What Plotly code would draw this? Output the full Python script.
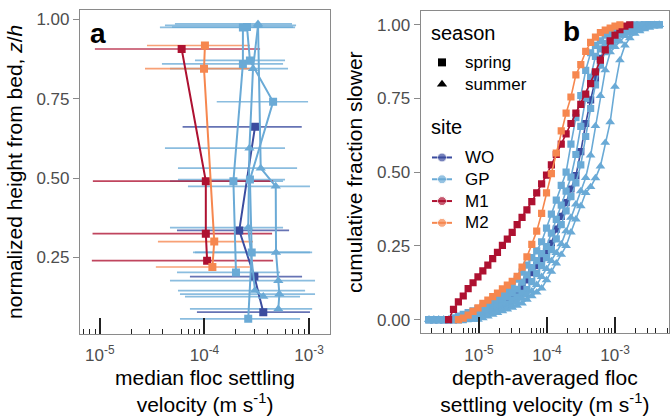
import plotly.graph_objects as go

W, H = 670, 416
FONT = "Liberation Sans, Arial, sans-serif"
GREY_TXT = "#4d4d4d"
BORDER = "#8a8a8a"

SITE_COLOURS = {"WO": "#3B4C9F", "GP": "#6AAAD6", "M1": "#AE1131", "M2": "#F6874F"}
SEASON_SYMBOLS = {"spring": "square", "summer": "triangle-up"}

# ---------------- panel a: median floc settling velocity profiles ----------------
# height above bed (z/h), median settling velocity and its lower / upper range (m s-1)
wo_z = [0.661, 0.335, 0.19, 0.078]
wo_ws = [3.04e-4, 2.15e-4, 3.0e-4, 3.65e-4]
wo_lo = [6.18e-5, 5.46e-5, 7.26e-5, 8.47e-5]
wo_hi = [8.51e-4, 6.44e-4, 8.57e-4, 1.02e-3]

gp1_z = [0.974, 0.859, 0.49, 0.203]
gp1_ws = [2.33e-4, 2.33e-4, 1.89e-4, 2.0e-4]
gp1_lo = [3.75e-5, 3.92e-5, 4.68e-5, 5.46e-5]
gp1_hi = [7.35e-4, 5.64e-4, 5.64e-4, 5.28e-4]

gp2_z = [0.975, 0.87, 0.74, 0.495, 0.266, 0.057]
gp2_ws = [2.55e-4, 2.72e-4, 4.53e-4, 2.72e-4, 2.83e-4, 2.62e-4]
gp2_lo = [4.89e-5, 8.11e-5, 1.31e-4, 5.58e-5, 7.76e-5, 5.83e-5]
gp2_hi = [7.03e-4, 5.89e-4, 9.78e-4, 5.89e-4, 1.07e-3, 8.20e-4]

gp3_z = [0.98, 0.844, 0.594, 0.344, 0.146, 0.127]
gp3_ws = [3.25e-4, 2.91e-4, 2.69e-4, 2.62e-4, 3.04e-4, 3.65e-4]
gp3_lo = [4.19e-5, 4.68e-5, 4.19e-5, 4.68e-5, 5.58e-5, 6.51e-5]
gp3_hi = [7.51e-4, 6.29e-4, 5.89e-4, 5.64e-4, 9.16e-4, 8.20e-4]

gp4_z = [0.985, 0.531, 0.474, 0.266, 0.177, 0.135, 0.088]
gp4_ws = [3.25e-4, 3.45e-4, 4.80e-4, 4.83e-4, 5.08e-4, 5.20e-4, 5.08e-4]
gp4_lo = [5.22e-5, 5.58e-5, 6.95e-5, 8.11e-5, 4.68e-5, 5.83e-5, 7.26e-5]
gp4_hi = [6.87e-4, 7.68e-4, 1.02e-3, 1.02e-3, 1.14e-3, 1.14e-3, 1.07e-3]

m1_z = [0.906, 0.49, 0.325, 0.24]
m1_ws = [6.05e-5, 1.03e-4, 1.03e-4, 1.06e-4]
m1_lo = [8.96e-6, 8.57e-6, 8.51e-6, 8.38e-6]
m1_hi = [3.40e-4, 4.53e-4, 4.43e-4, 4.53e-4]

m2_z = [0.917, 0.844, 0.30, 0.22]
m2_ws = [1.01e-4, 9.9e-5, 1.24e-4, 1.19e-4]
m2_lo = [2.82e-5, 2.7e-5, 3.59e-5, 3.43e-5]
m2_hi = [2.72e-4, 3.04e-4, 2.91e-4, 2.72e-4]

profiles = [
    ("WO", "spring", wo_z, wo_ws, wo_lo, wo_hi),
    ("GP", "spring", gp1_z, gp1_ws, gp1_lo, gp1_hi),
    ("GP", "spring", gp2_z, gp2_ws, gp2_lo, gp2_hi),
    ("GP", "summer", gp3_z, gp3_ws, gp3_lo, gp3_hi),
    ("GP", "summer", gp4_z, gp4_ws, gp4_lo, gp4_hi),
    ("M1", "spring", m1_z, m1_ws, m1_lo, m1_hi),
    ("M2", "spring", m2_z, m2_ws, m2_lo, m2_hi),
]

# ---------------- panel b: cumulative distributions of depth-averaged w_s ----------------
# settling-velocity classes (m s-1); every curve covers a run of these classes,
# starting at the class given by its *_first index
ws_bins = [
    1.84e-6, 2.17e-6, 2.56e-6, 3.03e-6, 3.57e-6, 4.22e-6, 4.98e-6, 5.87e-6, 6.93e-6, 8.18e-6,
    9.66e-6, 1.14e-5, 1.35e-5, 1.59e-5, 1.87e-5, 2.21e-5, 2.61e-5, 3.08e-5, 3.64e-5, 4.30e-5,
    5.07e-5, 5.98e-5, 7.06e-5, 8.34e-5, 9.84e-5, 1.16e-4, 1.37e-4, 1.62e-4, 1.91e-4, 2.25e-4,
    2.66e-4, 3.14e-4, 3.71e-4, 4.38e-4, 5.16e-4, 6.10e-4, 7.19e-4, 8.49e-4, 1.00e-3, 1.18e-3,
    1.40e-3, 1.65e-3, 1.95e-3, 2.30e-3, 2.71e-3, 3.20e-3, 3.78e-3, 4.46e-3,
]

wo_first = 0
cdf_wo = [0, 0, 0, 0, 0, 0, 0, 0.006, 0.012, 0.018,
          0.024, 0.03, 0.036, 0.042, 0.048, 0.058, 0.07, 0.082, 0.094, 0.111,
          0.135, 0.159, 0.183, 0.207, 0.231, 0.259, 0.307, 0.35, 0.397, 0.443,
          0.488, 0.57, 0.665, 0.745, 0.818, 0.886, 0.918, 0.94, 0.962, 0.974,
          0.979, 0.984, 0.989, 0.993, 0.998, 1]
gp1_first = 0
cdf_gp1 = [0, 0, 0, 0, 0, 0.006, 0.012, 0.018, 0.024, 0.03,
           0.037, 0.043, 0.049, 0.058, 0.07, 0.083, 0.095, 0.113, 0.137, 0.161,
           0.185, 0.21, 0.233, 0.264, 0.31, 0.358, 0.405, 0.455, 0.5, 0.595,
           0.685, 0.76, 0.845, 0.905, 0.93, 0.945, 0.965, 0.975, 0.983, 0.989,
           0.994, 0.998, 1, 1, 1, 1, 1, 1]
gp2_first = 0
cdf_gp2 = [0, 0, 0, 0, 0, 0, 0.004, 0.01, 0.016, 0.022,
           0.028, 0.034, 0.04, 0.046, 0.054, 0.066, 0.078, 0.09, 0.103, 0.127,
           0.152, 0.176, 0.2, 0.224, 0.248, 0.293, 0.34, 0.388, 0.436, 0.483,
           0.56, 0.655, 0.75, 0.822, 0.893, 0.918, 0.937, 0.957, 0.971, 0.977,
           0.982, 0.987, 0.992, 0.997, 1, 1, 1, 1]
gp3_first = 0
cdf_gp3 = [0, 0, 0, 0, 0, 0, 0, 0, 0.003, 0.009,
           0.015, 0.021, 0.027, 0.033, 0.039, 0.045, 0.053, 0.065, 0.077, 0.089,
           0.102, 0.129, 0.156, 0.183, 0.21, 0.237, 0.274, 0.322, 0.369, 0.417,
           0.464, 0.525, 0.621, 0.716, 0.796, 0.863, 0.909, 0.929, 0.948, 0.968,
           0.976, 0.981, 0.985, 0.99, 0.995, 1, 1, 1]
gp4_first = 0
cdf_gp4 = [0, 0, 0, 0, 0, 0, 0, 0, 0, 0.001,
           0.007, 0.013, 0.019, 0.025, 0.031, 0.037, 0.043, 0.049, 0.06, 0.072,
           0.084, 0.096, 0.118, 0.145, 0.172, 0.199, 0.226, 0.256, 0.3, 0.346,
           0.391, 0.436, 0.481, 0.557, 0.657, 0.759, 0.846, 0.907, 0.925, 0.944,
           0.962, 0.972, 0.979, 0.984, 0.989, 0.995, 1, 1]
gp5_first = 0
cdf_gp5 = [0, 0, 0, 0, 0, 0, 0, 0, 0, 0,
           0, 0.005, 0.011, 0.017, 0.023, 0.029, 0.035, 0.041, 0.047, 0.055,
           0.068, 0.08, 0.092, 0.106, 0.134, 0.163, 0.191, 0.22, 0.25, 0.296,
           0.34, 0.385, 0.43, 0.45, 0.48, 0.52, 0.6, 0.67, 0.79, 0.88,
           0.93, 0.955, 0.97, 0.978, 0.985, 0.99, 0.995, 1]
m1_first = 4
cdf_m1 = [0, 0.035, 0.06, 0.08, 0.105, 0.125,
          0.145, 0.165, 0.185, 0.207, 0.228, 0.252, 0.273, 0.296, 0.322, 0.347,
          0.372, 0.40, 0.43, 0.46, 0.49, 0.525, 0.56, 0.595, 0.63, 0.665,
          0.70, 0.73, 0.765, 0.80, 0.84, 0.88, 0.915, 0.945, 0.965, 0.983,
          0.995, 1]
m2_first = 6
cdf_m2 = [0, 0.005, 0.015, 0.028,
          0.04, 0.055, 0.066, 0.078, 0.09, 0.104, 0.117, 0.13, 0.147, 0.178,
          0.213, 0.255, 0.30, 0.36, 0.43, 0.495, 0.565, 0.64, 0.70, 0.755,
          0.83, 0.865, 0.91, 0.94, 0.958, 0.973, 0.982, 0.989, 0.995, 1]

curves = [
    ("WO", "spring", wo_first, cdf_wo),
    ("GP", "spring", gp1_first, cdf_gp1),
    ("GP", "spring", gp2_first, cdf_gp2),
    ("GP", "spring", gp3_first, cdf_gp3),
    ("GP", "summer", gp4_first, cdf_gp4),
    ("GP", "summer", gp5_first, cdf_gp5),
    ("M1", "spring", m1_first, cdf_m1),
    ("M2", "spring", m2_first, cdf_m2),
]

x_decades = [1e-5, 1e-4, 1e-3]
x_decade_text = ["10<sup>-5</sup>", "10<sup>-4</sup>", "10<sup>-3</sup>"]

season_keys = ["spring", "summer"]
site_keys = ["WO", "GP", "M1", "M2"]


def rgba(hex_colour, alpha):
    h = hex_colour.lstrip("#")
    r, g, b = int(h[0:2], 16), int(h[2:4], 16), int(h[4:6], 16)
    return f"rgba({r},{g},{b},{alpha})"


fig = go.Figure()

# error bars first so that every profile line sits on top of them
for site, season, z, ws, lo, hi in profiles:
    fig.add_trace(go.Scatter(
        x=ws, y=z, mode="markers", xaxis="x", yaxis="y",
        marker=dict(size=1, color="rgba(0,0,0,0)"),
        error_x=dict(type="data", symmetric=False,
                     array=[h - w for h, w in zip(hi, ws)],
                     arrayminus=[w - l for w, l in zip(ws, lo)],
                     width=0, thickness=1.7, color=rgba(SITE_COLOURS[site], 0.78)),
        showlegend=False, hoverinfo="skip"))

for site, season, z, ws, lo, hi in profiles:
    fig.add_trace(go.Scatter(
        x=ws, y=z, mode="lines+markers", xaxis="x", yaxis="y",
        line=dict(color=SITE_COLOURS[site], width=2),
        marker=dict(symbol=SEASON_SYMBOLS[season], size=9 if season == "summer" else 8,
                    color=SITE_COLOURS[site]),
        showlegend=False))

for site, season, first, cdf in curves:
    fig.add_trace(go.Scatter(
        x=ws_bins[first:first + len(cdf)], y=cdf, mode="lines+markers",
        xaxis="x2", yaxis="y2",
        line=dict(color=SITE_COLOURS[site], width=1.6),
        marker=dict(symbol=SEASON_SYMBOLS[season], size=8.5 if season == "summer" else 7.2,
                    color=SITE_COLOURS[site]),
        showlegend=False))

# ---------------- legend drawn inside panel b on a pixel-space overlay ----------------
LEG_X_KEY = 442       # centre of the key glyphs
LEG_X_TEXT = 463      # left edge of the entry labels
LEG_X_TITLE = 429
season_rows = [63, 85]
site_rows = [159, 181, 203, 225]

for season, row in zip(season_keys, season_rows):
    fig.add_trace(go.Scatter(
        x=[LEG_X_KEY], y=[row], mode="markers", xaxis="x5", yaxis="y5",
        marker=dict(symbol=SEASON_SYMBOLS[season], size=9 if season == "summer" else 8,
                    color="black"),
        showlegend=False, hoverinfo="skip"))
for site, row in zip(site_keys, site_rows):
    fig.add_trace(go.Scatter(
        x=[LEG_X_KEY - 10, LEG_X_KEY, LEG_X_KEY + 10], y=[row, row, row],
        mode="lines+markers", xaxis="x5", yaxis="y5",
        line=dict(color=SITE_COLOURS[site], width=2),
        marker=dict(symbol="circle", size=[0, 9, 0], color=SITE_COLOURS[site]),
        showlegend=False, hoverinfo="skip"))

legend_notes = []
legend_notes.append(dict(text="season", x=LEG_X_TITLE, y=33, size=20))
legend_notes.append(dict(text="site", x=LEG_X_TITLE, y=128, size=20))
for label, row in zip(season_keys, season_rows):
    legend_notes.append(dict(text=label, x=LEG_X_TEXT, y=row, size=17))
for label, row in zip(site_keys, site_rows):
    legend_notes.append(dict(text=label, x=LEG_X_TEXT, y=row, size=17))


def minor_vals(lo_exp, hi_exp):
    vals = []
    for e in range(lo_exp, hi_exp + 1):
        for m in (2, 3, 4, 6, 7, 8, 9):
            vals.append(m * 10.0 ** e)
    return vals


def mid_vals(lo_exp, hi_exp):
    return [5 * 10.0 ** e for e in range(lo_exp, hi_exp + 1)]


tickfont = dict(family=FONT, size=17, color=GREY_TXT)
titlefont = dict(family=FONT, size=21, color="black")

xa_dom = [80 / W, 330 / W]
xb_dom = [420.7 / W, 669 / W]
ya_dom = [1 - 337 / H, 1 - 10 / H]
yb_dom = [1 - 336.7 / H, 1 - 11 / H]
xa_range = [-5.19, -2.80]
xb_range = [-5.857, -2.206]


def log_x(domain, rng, title, anchor):
    lo_e, hi_e = int(rng[0]) - 1, int(rng[1]) + 1
    return dict(
        type="log", domain=domain, range=rng, anchor=anchor,
        showline=True, mirror=True, linecolor=BORDER, linewidth=1.2,
        showgrid=False, zeroline=False,
        tickmode="array", tickvals=x_decades, ticktext=x_decade_text,
        ticks="inside", ticklen=16, tickwidth=2, tickcolor="#222",
        ticklabelstandoff=6,
        minor=dict(tickmode="array", tickvals=minor_vals(lo_e, hi_e), ticks="inside",
                   ticklen=5, tickwidth=1.4, tickcolor="#222", showgrid=False),
        tickfont=tickfont,
        title=dict(text=title, font=titlefont, standoff=9),
    )


def mid_ticks(base, rng, anchor):
    lo_e, hi_e = int(rng[0]) - 1, int(rng[1]) + 1
    return dict(
        type="log", overlaying=base, range=rng, anchor=anchor,
        showline=False, showgrid=False, zeroline=False, showticklabels=False,
        tickmode="array", tickvals=mid_vals(lo_e, hi_e),
        ticks="inside", ticklen=11, tickwidth=1.6, tickcolor="#222",
    )


def lin_y(domain, rng, tickvals, title, anchor):
    return dict(
        domain=domain, range=rng, anchor=anchor,
        showline=True, mirror=True, linecolor=BORDER, linewidth=1.2,
        showgrid=False, zeroline=False,
        tickmode="array", tickvals=tickvals, ticktext=[f"{v:.2f}" for v in tickvals],
        ticks="outside", ticklen=6, tickwidth=1.2, tickcolor=BORDER,
        tickfont=tickfont,
        title=dict(text=title, font=titlefont, standoff=8),
    )


annotations = [
    dict(text="<b>a</b>", x=88 / W, y=1 - 34 / H, xref="paper", yref="paper",
         xanchor="left", yanchor="middle", showarrow=False,
         font=dict(family=FONT, size=28, color="black")),
    dict(text="<b>b</b>", x=561 / W, y=1 - 32 / H, xref="paper", yref="paper",
         xanchor="left", yanchor="middle", showarrow=False,
         font=dict(family=FONT, size=28, color="black")),
]
for note in legend_notes:
    annotations.append(dict(
        text=note["text"], x=note["x"], y=note["y"], xref="x5", yref="y5",
        xanchor="left", yanchor="middle", showarrow=False,
        font=dict(family=FONT, size=note["size"], color="black")))

fig.update_layout(
    width=W, height=H,
    margin=dict(l=0, r=0, t=0, b=0),
    paper_bgcolor="white", plot_bgcolor="rgba(0,0,0,0)",
    font=dict(family=FONT, color="black"),
    showlegend=False,
    xaxis=log_x(xa_dom, xa_range, "median floc settling<br>velocity (m s<sup>-1</sup>)", "y"),
    xaxis2=log_x(xb_dom, xb_range, "depth-averaged floc<br>settling velocity (m s<sup>-1</sup>)", "y2"),
    xaxis3=mid_ticks("x", xa_range, "y"),
    xaxis4=mid_ticks("x2", xb_range, "y2"),
    xaxis5=dict(domain=[0, 1], range=[0, W], anchor="y5", visible=False, fixedrange=True),
    yaxis5=dict(domain=[0, 1], range=[H, 0], anchor="x5", visible=False, fixedrange=True),
    yaxis=lin_y(ya_dom, [0.01, 1.029], [0.25, 0.5, 0.75, 1.0],
                "normalized height from bed, <i>z</i>/<i>h</i>", "x"),
    yaxis2=lin_y(yb_dom, [-0.047, 1.047], [0, 0.25, 0.5, 0.75, 1.0],
                 "cumulative fraction slower", "x2"),
    annotations=annotations,
)

fig.write_html("out.html")
